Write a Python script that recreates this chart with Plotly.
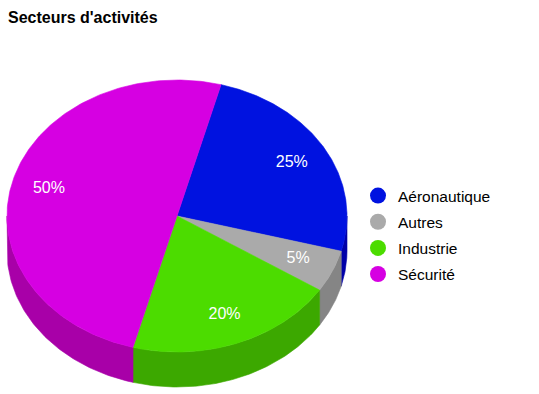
import numpy as np
import plotly.graph_objects as go

# ---- data ----
categories = ["Aéronautique", "Autres", "Industrie", "Sécurité"]
values = [25, 5, 20, 50]
top_colors = ["#0012e0", "#aaaaaa", "#4cdc00", "#d600e2"]
side_colors = ["#0000a8", "#858585", "#3ca800", "#a800a8"]
title_text = "Secteurs d'activités"

# ---- geometry (pixel space) ----
W, H = 539, 394
cx, cy = 177, 216
rx, ry = 170, 136
depth = 35
start_deg = 75  # start angle, slices go clockwise
FONT = "Arial, Liberation Sans, sans-serif"

def pt(t_deg, dy=0.0):
    t = np.radians(t_deg)
    return cx + rx * np.cos(t), cy - ry * np.sin(t) + dy

fig = go.Figure()

total = float(sum(values))
bounds = []
a = start_deg
for v in values:
    b = a - 360.0 * v / total
    bounds.append((a, b))
    a = b

# sides (front half: angles in [-180, 0])
for (a0, a1), col in zip(bounds, side_colors):
    for shift in (0, 360, -360):
        hi, lo = a0 + shift, a1 + shift
        s_hi, s_lo = min(hi, 0), max(lo, -180)
        if s_hi > s_lo:
            ts = np.linspace(s_hi, s_lo, 80)
            xs_top, ys_top = pt(ts)
            xs_bot, ys_bot = pt(ts[::-1], depth)
            xs = np.concatenate([xs_top, xs_bot, xs_top[:1]])
            ys = np.concatenate([ys_top, ys_bot, ys_top[:1]])
            fig.add_trace(go.Scatter(x=xs, y=ys, mode="lines", fill="toself",
                                     fillcolor=col, line=dict(color=col, width=0.6),
                                     hoverinfo="skip", showlegend=False))

# top faces
for (a0, a1), col, cat, v in zip(bounds, top_colors, categories, values):
    ts = np.linspace(a0, a1, 200)
    xs, ys = pt(ts)
    xs = np.concatenate([[cx], xs, [cx]])
    ys = np.concatenate([[cy], ys, [cy]])
    fig.add_trace(go.Scatter(x=xs, y=ys, mode="lines", fill="toself",
                             fillcolor=col, line=dict(color=col, width=0.6),
                             name=cat, hoverinfo="text",
                             text=f"{cat}: {v}%", showlegend=False))

# percentage labels
lab_x, lab_y, lab_t = [], [], []
for (a0, a1), v in zip(bounds, values):
    m = np.radians((a0 + a1) / 2)
    lab_x.append(cx + 0.78 * rx * np.cos(m))
    lab_y.append(cy - 0.78 * ry * np.sin(m))
    lab_t.append(f"{round(100 * v / total)}%")
fig.add_trace(go.Scatter(x=lab_x, y=lab_y, mode="text", text=lab_t,
                         textfont=dict(color="white", size=16, family=FONT),
                         hoverinfo="skip", showlegend=False))

# legend entries
for cat, col in zip(categories, top_colors):
    fig.add_trace(go.Scatter(x=[None], y=[None], mode="markers", name=cat,
                             legendgroup=cat,
                             marker=dict(symbol="circle", size=16, color=col)))

fig.update_layout(
    width=W, height=H,
    margin=dict(l=0, r=0, t=0, b=0),
    paper_bgcolor="white", plot_bgcolor="white",
    xaxis=dict(range=[0, W], visible=False, fixedrange=True),
    yaxis=dict(range=[H, 0], visible=False, fixedrange=True),
    title=dict(text=f"<b>{title_text}</b>", x=8 / W, xanchor="left",
               y=1 - 17 / H, yanchor="middle", yref="container",
               font=dict(size=16, color="black", family=FONT)),
    legend=dict(x=358 / W, xanchor="left", y=1 - 179 / H, yanchor="top",
                font=dict(size=15.5, color="black", family=FONT),
                bgcolor="rgba(0,0,0,0)", tracegroupgap=3),
    showlegend=True,
)

fig.write_html("out.html", config={"displayModeBar": False},
               post_script="document.body.style.margin='0';")
